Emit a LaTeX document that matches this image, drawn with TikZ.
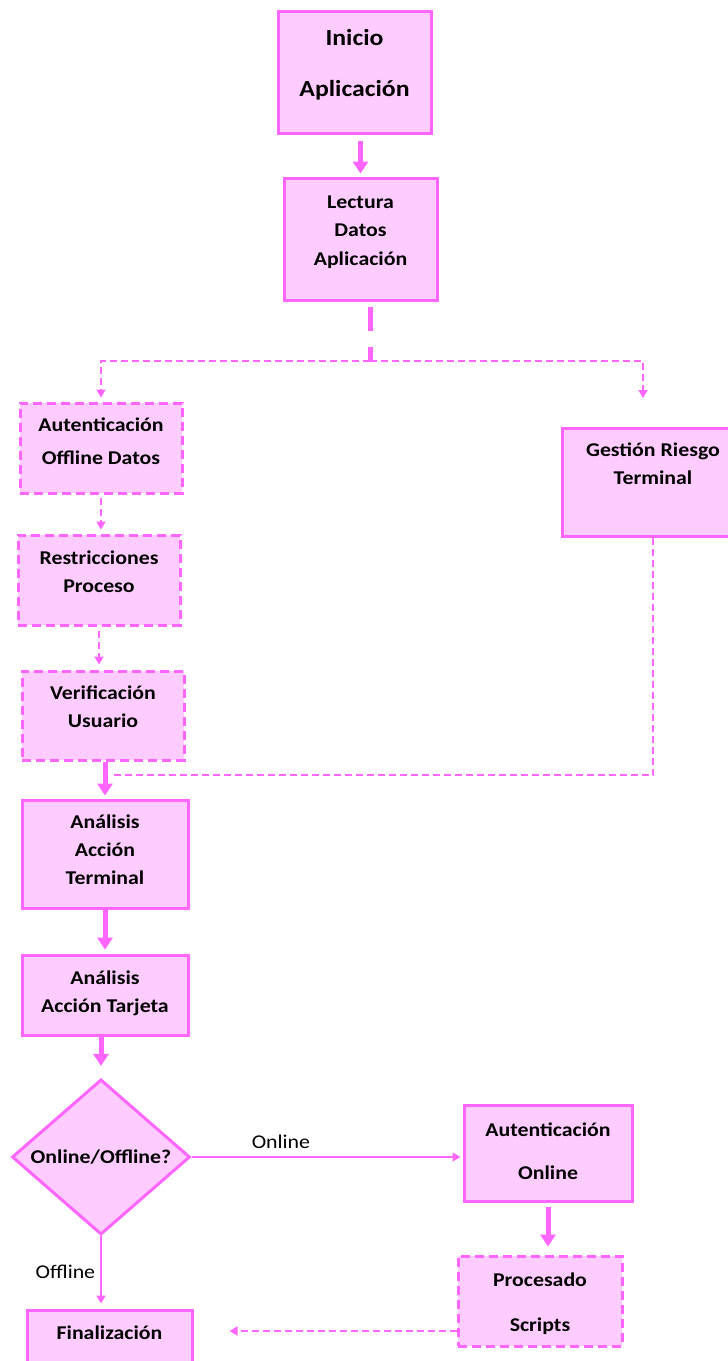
\documentclass[tikz,border=0pt]{standalone}
\usepackage{fontspec}
\setmainfont{Carlito}[FakeStretch=1.12]
\usepackage{xcolor}
\usepackage{tikz}
\usetikzlibrary{positioning, arrows.meta, shapes.geometric}
\definecolor{rosaborde}{HTML}{FF66FF}
\definecolor{rosafondo}{HTML}{FFCCFF}

\begin{document}
\begin{tikzpicture}[x=1pt, y=-1pt,
	caja/.style={rectangle, draw=rosaborde, fill=rosafondo, line width=3pt, inner sep=0pt, align=center, font=\fontsize{19.5}{28}\selectfont\bfseries, text height=14pt},
	cajapunt/.style={caja, dash pattern=on 9pt off 5pt},
	decide/.style={diamond, draw=rosaborde, fill=rosafondo, line width=3pt, inner sep=0pt, font=\fontsize{19.5}{28}\selectfont\bfseries},
	flecha/.style={draw=rosaborde, line width=5pt, -{Triangle[width=15pt,length=12pt]}},
	fina/.style={draw=rosaborde, line width=1.8pt, -{Triangle[width=9pt,length=8pt]}},
	punteada/.style={fina, dash pattern=on 7pt off 4pt},
	etiqueta/.style={font=\fontsize{19.5}{24}\selectfont, inner sep=1pt}]
		\useasboundingbox (0,0) rectangle (728,1361);
		\clip (0,0) rectangle (728,1361);
		
		\node[caja, minimum width=153pt, minimum height=122pt, font=\fontsize{23}{51}\selectfont\bfseries, text height=68pt, text depth=20pt] (inicio) at (354.5,72) {Inicio\\Aplicación};
		\node[caja, minimum width=153pt, minimum height=122pt, text height=71pt, text depth=19pt] (lectura) at (360.5,239) {Lectura\\[0.5pt]Datos\\[0.5pt]Aplicación};
		\node[cajapunt, minimum width=162pt, minimum height=90pt, text height=47pt, text depth=15pt] (autoff) at (101,448) {Autenticación\\[5pt]Offline Datos};
		\node[caja, minimum width=182pt, minimum height=108pt, text height=42pt, text depth=38pt] (gestion) at (653,482) {Gestión Riesgo\\Terminal};
		\node[cajapunt, minimum width=162pt, minimum height=90pt, text height=42pt, text depth=18pt] (restr) at (99,580) {Restricciones\\Proceso};
		\node[cajapunt, minimum width=162pt, minimum height=89pt, text height=42pt, text depth=19pt] (verif) at (103,715.5) {Verificación\\Usuario};
		\node[caja, minimum width=166pt, minimum height=108pt, text height=70pt, text depth=10pt] (anterm) at (105,854) {Análisis\\Acción\\Terminal};
		\node[caja, minimum width=166pt, minimum height=80pt, text height=42pt, text depth=8pt] (antarj) at (105,995) {Análisis\\Acción Tarjeta};
		\node[decide, minimum width=178pt, minimum height=136pt] (decision) at (101,1157) {Online/Offline?};
		\node[caja, minimum width=168pt, minimum height=96pt, text height=57pt, text depth=5pt] (auton) at (548,1153) {Autenticación\\[15pt]Online};
		\node[cajapunt, minimum width=164pt, minimum height=90pt, text height=62pt, text depth=2pt] (proc) at (540,1301) {Procesado\\[17pt]Scripts};
		\node[caja, minimum width=165pt, minimum height=96pt, text depth=52pt] (final) at (109.5,1358) {Finalización};
		
		\coordinate (rama) at (370,361);
		\coordinate (gespunta) at (643,398);
		\coordinate (junta) at (110,775);
		
		\draw[flecha, shorten <=6pt, shorten >=3pt] (inicio.south -| lectura) -- (lectura.north);
		\draw[draw=rosaborde, line width=5pt, dash pattern=on 24pt off 16pt, shorten <=5pt] (lectura.south -| rama) -- (rama);
		\draw[punteada, shorten >=4pt] (rama) -| (autoff.north);
		\draw[punteada] (rama) -| (gespunta);
		\draw[punteada, shorten <=3pt, shorten >=4pt] (autoff.south) -- (autoff.south |- restr.north);
		\draw[punteada, shorten <=4pt, shorten >=5pt] (restr.south) -- (restr.south |- verif.north);
		\draw[punteada, -, line width=1.5pt] (gestion.south) |- (junta);
		\draw[flecha, shorten >=3pt] (verif.south -| anterm) -- (anterm.north);
		\draw[flecha, shorten >=4pt] (anterm.south) -- (antarj.north);
		\draw[flecha, shorten >=12pt] (antarj.south -| decision) -- (decision.north);
		\draw[fina, shorten >=2pt] (decision.east) -- (decision.east -| auton.west) node[pos=0.33, above=6pt, etiqueta] {Online};
		\draw[fina, shorten >=5pt] (decision.south) -- (decision.south |- final.north) node[pos=0.5, left=4pt, etiqueta] {Offline};
		\draw[flecha, shorten <=4pt, shorten >=8pt] (auton.south) -- (auton.south |- proc.north);
		\draw[punteada, shorten >=36pt] ([yshift=-30pt]proc.west) -- ([yshift=27pt]final.east);
\end{tikzpicture}
\end{document}
